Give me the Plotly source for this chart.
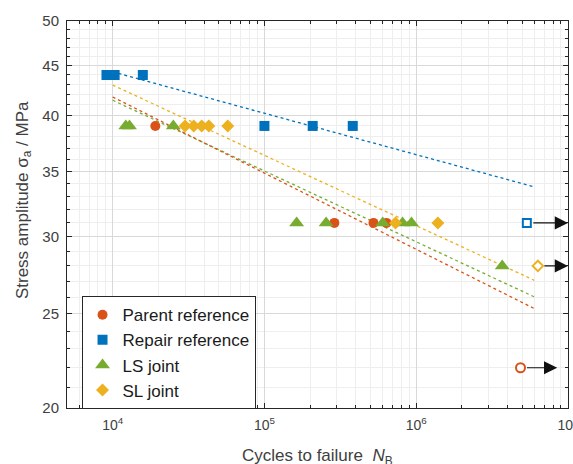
import numpy as np
import plotly.graph_objects as go

# ---------------- data ----------------
parent_N = [1.91e4, 2.89e5, 5.23e5, 6.37e5]
parent_S = [39, 31, 31, 31]
parent_runout_N = [4.87e6]
parent_runout_S = [22]

repair_N = [9.1e3, 1.03e4, 1.58e4, 1.0e5, 2.08e5, 3.82e5]
repair_S = [44, 44, 44, 39, 39, 39]
repair_runout_N = [5.36e6]
repair_runout_S = [31]

ls_N = [1.22e4, 1.29e4, 2.51e4, 1.63e5, 2.55e5, 6.02e5, 8.13e5, 9.31e5, 3.69e6]
ls_S = [39, 39, 39, 31, 31, 31, 31, 31, 28]

sl_N = [3.0e4, 3.42e4, 3.86e4, 4.30e4, 5.73e4, 7.31e5, 1.39e6]
sl_S = [39, 39, 39, 39, 39, 31, 31]
sl_runout_N = [6.34e6]
sl_runout_S = [28]

# fitted S-N lines (endpoints)
fit_N = [1e4, 6e6]
fit_parent_S = [41.77, 25.31]
fit_repair_S = [44.33, 33.76]
fit_ls_S = [41.45, 26.02]
fit_sl_S = [42.96, 27.06]

x_tickvals = [1e4, 1e5, 1e6, 1e7]
x_ticktext = ["10<sup>4</sup>", "10<sup>5</sup>", "10<sup>6</sup>", "10<sup>7</sup>"]
y_tickvals = [20, 25, 30, 35, 40, 45, 50]

names = ["Parent reference", "Repair reference", "LS joint", "SL joint"]
x_title = "Cycles to failure  <i>N</i><sub>B</sub>"
y_title = "Stress amplitude σ<sub>a</sub> / MPa"

# ---------------- style ----------------
C_PARENT = "#D95319"
C_REPAIR = "#0072BD"
C_LS = "#77AC30"
C_SL = "#EDB120"
FONT = "Liberation Sans, Arial, Helvetica, sans-serif"
AX = "#262626"
TXT = "#404040"

fig = go.Figure()

# fit lines
for ys, c in [(fit_repair_S, C_REPAIR), (fit_sl_S, C_SL), (fit_ls_S, C_LS), (fit_parent_S, C_PARENT)]:
    fig.add_trace(go.Scatter(x=fit_N, y=ys, mode="lines", showlegend=False,
                             line=dict(color=c, width=1.3, dash="dot"), hoverinfo="skip"))

# filled markers
fig.add_trace(go.Scatter(x=parent_N, y=parent_S, mode="markers", name=names[0],
                         marker=dict(symbol="circle", size=10, color=C_PARENT, line=dict(width=0))))
fig.add_trace(go.Scatter(x=repair_N, y=repair_S, mode="markers", name=names[1],
                         marker=dict(symbol="square", size=10, color=C_REPAIR, line=dict(width=0))))
fig.add_trace(go.Scatter(x=ls_N, y=ls_S, mode="markers", name=names[2],
                         marker=dict(symbol="triangle-up", size=13, color=C_LS, line=dict(width=0))))
fig.add_trace(go.Scatter(x=sl_N, y=sl_S, mode="markers", name=names[3],
                         marker=dict(symbol="diamond", size=10, color=C_SL, line=dict(width=0))))

# run-outs (open markers)
fig.add_trace(go.Scatter(x=parent_runout_N, y=parent_runout_S, mode="markers", showlegend=False,
                         marker=dict(symbol="circle", size=9, color="white", line=dict(color=C_PARENT, width=2))))
fig.add_trace(go.Scatter(x=repair_runout_N, y=repair_runout_S, mode="markers", showlegend=False,
                         marker=dict(symbol="square", size=8, color="white", line=dict(color=C_REPAIR, width=2))))
fig.add_trace(go.Scatter(x=sl_runout_N, y=sl_runout_S, mode="markers", showlegend=False,
                         marker=dict(symbol="diamond", size=8, color="white", line=dict(color=C_SL, width=2))))

# run-out arrows
annotations = []
for n, s, tip in [(parent_runout_N[0], parent_runout_S[0], 8.5e6),
                  (repair_runout_N[0], repair_runout_S[0], 1.0e7),
                  (sl_runout_N[0], sl_runout_S[0], 1.0e7)]:
    annotations.append(dict(x=np.log10(tip), y=np.log10(s), ax=np.log10(n), ay=np.log10(s),
                            xref="x", yref="y", axref="x", ayref="y", text="",
                            showarrow=True, arrowhead=2, arrowsize=2.4, arrowwidth=1.1,
                            arrowcolor="#111111", startstandoff=5))

# axis titles as annotations (for exact placement)
annotations.append(dict(text=x_title, xref="paper", yref="paper", x=0.5, y=-0.092,
                        xanchor="center", yanchor="top", showarrow=False,
                        font=dict(family=FONT, size=17, color=TXT)))
annotations.append(dict(text=y_title, xref="paper", yref="paper", x=-0.086, y=0.537,
                        xanchor="center", yanchor="middle", textangle=-90, showarrow=False,
                        font=dict(family=FONT, size=17, color=TXT)))

minor_x = []
for d in [1e3, 1e4, 1e5, 1e6]:
    for k in range(2, 10):
        v = k * d
        if 5000 <= v <= 1e7:
            minor_x.append(v)
minor_y = list(range(20, 51))

fig.update_layout(
    width=573, height=464,
    margin=dict(l=67, r=5, t=21, b=56),
    paper_bgcolor="white", plot_bgcolor="white",
    font=dict(family=FONT, color=TXT, size=14),
    showlegend=True,
    legend=dict(x=0.029, y=0.289, xanchor="left", yanchor="top",
                bgcolor="white", bordercolor=AX, borderwidth=1,
                font=dict(family=FONT, size=17, color="#1a1a1a"),
                tracegroupgap=0, itemsizing="trace"),
    annotations=annotations,
)

fig.update_xaxes(
    type="log", range=[np.log10(5000), 7.0005], automargin=False,
    tickvals=x_tickvals, ticktext=x_ticktext, ticklabeloverflow="allow",
    ticks="inside", ticklen=5, tickcolor=AX, tickwidth=1,
    showline=True, linecolor=AX, linewidth=1, mirror="allticks",
    showgrid=True, gridcolor="#d9d9d9", gridwidth=1,
    minor=dict(tickvals=minor_x, ticks="inside", ticklen=3, tickcolor=AX,
               showgrid=True, gridcolor="#eeeeee", gridwidth=1),
    tickfont=dict(size=14, color=TXT),
    ticklabelstandoff=4,
    zeroline=False,
)
fig.update_yaxes(
    type="log", range=[np.log10(20), np.log10(50)], automargin=False,
    tickvals=y_tickvals, ticktext=[str(v) for v in y_tickvals], ticklabeloverflow="allow",
    ticks="inside", ticklen=5, tickcolor=AX, tickwidth=1,
    showline=True, linecolor=AX, linewidth=1, mirror="allticks",
    showgrid=True, gridcolor="#d9d9d9", gridwidth=1,
    minor=dict(tickvals=minor_y, ticks="inside", ticklen=3, tickcolor=AX,
               showgrid=True, gridcolor="#eeeeee", gridwidth=1),
    tickfont=dict(size=15, color=TXT),
    ticklabelstandoff=4,
    zeroline=False,
)

fig.write_html("out.html", config={"displayModeBar": False},
               post_script="document.body.style.margin='0';document.body.style.overflow='hidden';")
